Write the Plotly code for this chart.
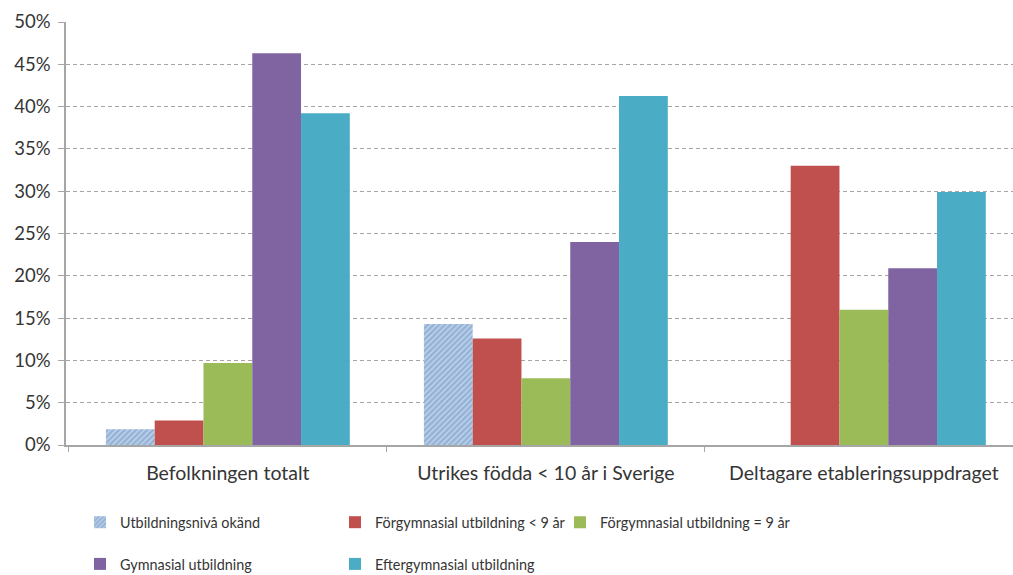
import plotly.graph_objects as go

categories = ["Befolkningen totalt", "Utrikes födda < 10 år i Sverige", "Deltagare etableringsuppdraget"]
series_names = [
    "Utbildningsnivå okänd",
    "Förgymnasial utbildning < 9 år",
    "Förgymnasial utbildning = 9 år",
    "Gymnasial utbildning",
    "Eftergymnasial utbildning",
]
okand = [0.0185, 0.143, 0.0]
forgym_lt9 = [0.029, 0.126, 0.330]
forgym_eq9 = [0.097, 0.079, 0.160]
gymnasial = [0.463, 0.240, 0.209]
eftergym = [0.392, 0.4125, 0.299]
y_ticks = [0, 0.05, 0.10, 0.15, 0.20, 0.25, 0.30, 0.35, 0.40, 0.45, 0.50]

values = [okand, forgym_lt9, forgym_eq9, gymnasial, eftergym]
colors = ["#95B3D7", "#C0504D", "#9BBB59", "#8064A2", "#4BACC6"]
legend_ids = ["legend", "legend2", "legend3", "legend", "legend2"]

FONT = "Lato"
TXT = "#353535"

fig = go.Figure()
for i, (name, vals) in enumerate(zip(series_names, values)):
    marker = dict(color=colors[i], line=dict(width=0))
    if i == 0:
        marker["pattern"] = dict(shape="/", fgcolor="#c9d9ee", bgcolor=colors[0],
                                 size=4, solidity=0.3, fillmode="replace")
    fig.add_trace(go.Bar(
        x=categories, y=vals, name=name, marker=marker,
        legend=legend_ids[i], legendgroup=name,
    ))

W = 947.0
def px_x(p):
    return (p - 66) / W

leg_common = dict(orientation="v", bgcolor="rgba(0,0,0,0)", tracegroupgap=20,
                  font=dict(family=FONT, size=14.4, color=TXT),
                  yanchor="top", xanchor="left", y=-0.145)

fig.update_layout(
    width=1013, height=575,
    margin=dict(l=66, r=0, t=22, b=130, autoexpand=False),
    paper_bgcolor="white", plot_bgcolor="white",
    barmode="group", bargap=0.233, bargroupgap=0,
    font=dict(family=FONT, color=TXT),
    legend=dict(x=px_x(80), **leg_common),
    legend2=dict(x=px_x(335), **leg_common),
    legend3=dict(x=px_x(560), **leg_common),
    xaxis=dict(
        range=[-0.509, 2.469], showgrid=False,
        showline=True, linecolor="#a6a6a6", linewidth=1.5,
        ticks="outside", tickson="boundaries", ticklen=5, tickcolor="#a6a6a6",
        tickfont=dict(family=FONT, size=19.5, color=TXT),
        ticklabelstandoff=10,
    ),
    yaxis=dict(
        range=[0, 0.5], tickvals=y_ticks, tickformat=".0%",
        showgrid=True, gridcolor="#aba2a2", griddash="4px,3px", gridwidth=1,
        showline=True, linecolor="#a6a6a6", linewidth=1.5,
        ticks="outside", ticklen=6, tickcolor="#a6a6a6",
        tickfont=dict(family=FONT, size=18.5, color=TXT),
        ticklabelstandoff=4, zeroline=False,
    ),
)

fig.write_html("out.html", config={"displayModeBar": False},
               post_script="document.body.style.margin='0px';")
